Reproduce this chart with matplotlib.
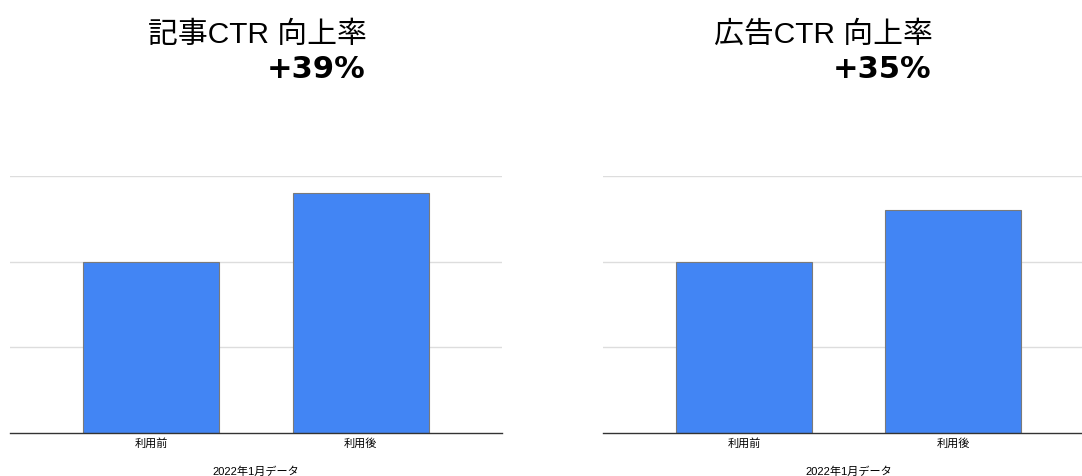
import matplotlib.pyplot as plt

plt.rcParams['font.family'] = ['Liberation Sans', 'Noto Sans CJK JP', 'DejaVu Sans']

categories = ['利用前', '利用後']
article_ctr = [1.0, 1.40]
ad_ctr = [1.0, 1.30]
titles = ['記事CTR 向上率', '広告CTR 向上率']
lifts = ['+39%', '+35%']
xlabel = '2022年1月データ'

bar_color = '#4285f4'

fig = plt.figure(figsize=(10.82, 4.76), dpi=100)
W, H = 1082, 476

# axes boxes in pixels: left, right
boxes = [(10, 502), (603, 1094)]
title_right = [367, 933]

for i, vals in enumerate([article_ctr, ad_ctr]):
    l, r = boxes[i]
    ax = fig.add_axes([l / W, (H - 433) / H, (r - l) / W, (433 - 176) / H])
    ax.bar(categories, vals, width=0.65, color=bar_color, edgecolor='#7a7a7a', linewidth=0.8, zorder=3)
    ax.set_xlim(-0.675, 1.675)
    ax.set_ylim(0, 1.5)
    ax.set_yticks([0.5, 1.0, 1.5])
    ax.yaxis.grid(True, color='#dddddd', linewidth=1)
    ax.tick_params(axis='y', left=False, labelleft=False)
    ax.tick_params(axis='x', length=0, labelsize=8, pad=4)
    for s in ['top', 'right', 'left']:
        ax.spines[s].set_visible(False)
    ax.spines['bottom'].set_color('#333333')
    ax.spines['bottom'].set_linewidth(1)
    ax.spines['bottom'].set_zorder(4)
    ax.set_xlabel(xlabel, fontsize=8, labelpad=12)

    fig.text(title_right[i] / W, (H - 35) / H, titles[i], ha='right', va='center', fontsize=21.5)
    fig.text((title_right[i] - 2) / W, (H - 69) / H, lifts[i], ha='right', va='center',
             fontsize=22, fontweight='bold', family=['DejaVu Sans'])

plt.savefig('out.png', dpi=100)
